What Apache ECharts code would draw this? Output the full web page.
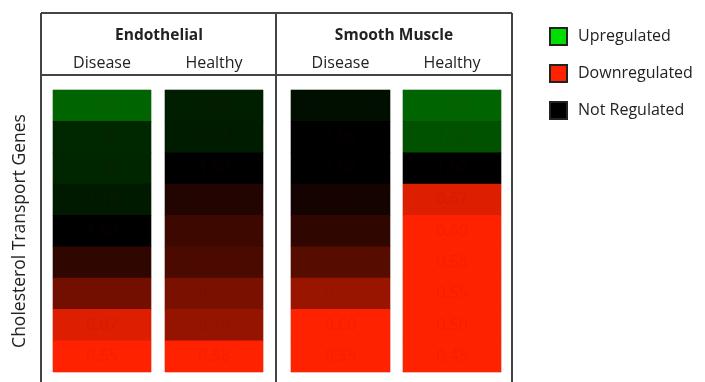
<!DOCTYPE html>
<html>
<head>
<meta charset="utf-8">
<script src="https://cdn.jsdelivr.net/npm/echarts@6/dist/echarts.min.js"></script>
<style>
  html, body { margin: 0; padding: 0; background: #fff; }
  #chart { width: 705px; height: 382px; }
</style>
</head>
<body>
<div id="chart"></div>
<script>
// Fold change of nine cholesterol transport genes, top to bottom
const genes = ['G1', 'G2', 'G3', 'G4', 'G5', 'G6', 'G7', 'G8', 'G9'];
const groups = ['Endothelial', 'Smooth Muscle'];
const conditions = ['Disease', 'Healthy'];
const endoDisease   = [1.75, 1.30, 1.28, 1.19, 1.00, 0.93, 0.83, 0.67, 0.55];
const endoHealthy   = [1.22, 1.21, 1.00, 0.95, 0.91, 0.89, 0.82, 0.78, 0.58];
const smoothDisease = [1.11, 1.00, 1.00, 0.97, 0.93, 0.87, 0.77, 0.60, 0.55];
const smoothHealthy = [1.75, 1.60, 1.00, 0.67, 0.60, 0.58, 0.55, 0.50, 0.45];
const legendNames = ['Upregulated', 'Downregulated', 'Not Regulated'];
const legendColors = ['#00dd00', '#ff2200', '#000000'];

const columns = [endoDisease, endoHealthy, smoothDisease, smoothHealthy];
const columnLabels = [conditions[0], conditions[1], conditions[0], conditions[1]];
const gridLefts = [53, 165, 291, 403];
const gridWidths = [98, 98, 99, 98];
const FONT = '"Open Sans", Lato, sans-serif';

const grids = columns.map((_, i) => ({
  left: gridLefts[i], width: gridWidths[i], top: 90, height: 282,
  show: true, backgroundColor: 'transparent', borderColor: '#dcdcdc', borderWidth: 1
}));
const xAxes = columns.map((_, i) => ({
  type: 'category', gridIndex: i, position: 'top', data: [columnLabels[i]],
  axisLine: { show: false }, axisTick: { show: false },
  axisLabel: { margin: 19, fontSize: 16, color: '#222', fontFamily: FONT }
}));
const yAxes = columns.map((_, i) => ({
  type: 'category', gridIndex: i, inverse: true, data: genes,
  axisLine: { show: false }, axisTick: { show: false }, axisLabel: { show: false },
  name: i === 0 ? 'Cholesterol Transport Genes' : '',
  nameLocation: 'middle', nameGap: 24, nameRotate: 90,
  nameTextStyle: { fontSize: 17.5, color: '#222', fontFamily: FONT }
}));

const heatSeries = columns.map((vals, i) => ({
  type: 'heatmap', xAxisIndex: i, yAxisIndex: i,
  data: vals.map((v, r) => [0, r, v]),
  label: {
    show: true, fontSize: 16, fontFamily: FONT,
    color: 'rgba(130,10,0,0.09)',
    formatter: p => p.value[2].toFixed(2)
  },
  itemStyle: { borderWidth: 0 },
  emphasis: { disabled: true }
}));

// empty series only to feed the legend swatches
const legendSeries = legendNames.map((n, i) => ({
  type: 'scatter', name: n, xAxisIndex: 0, yAxisIndex: 0, data: [],
  itemStyle: { color: legendColors[i], opacity: 1, borderColor: '#222', borderWidth: 1 }
}));

const lineStyle = { stroke: '#444', lineWidth: 2 };
const tableX0 = 41, tableX1 = 512, tableMid = 276, tableTop = 13, headerLine = 75, tableBottom = 390;

const chart = echarts.init(document.getElementById('chart'), null, { renderer: 'canvas' });
chart.setOption({
  animation: false,
  backgroundColor: '#fff',
  grid: grids,
  xAxis: xAxes,
  yAxis: yAxes,
  visualMap: {
    show: false, type: 'continuous', min: 0.62, max: 2.9, seriesIndex: [0, 1, 2, 3],
    inRange: { color: ['#ff2200', '#000000', '#003300', '#006600', '#009900', '#00cc00', '#00ff00'] }
  },
  legend: {
    orient: 'vertical', left: 549, top: 27, itemGap: 18, padding: 0,
    itemWidth: 17, itemHeight: 17, icon: 'rect',
    data: legendNames,
    textStyle: { fontSize: 16, lineHeight: 17, color: '#222', fontFamily: FONT, padding: [0, 0, 0, 6] }
  },
  graphic: [
    { type: 'line', shape: { x1: tableX0, y1: tableTop, x2: tableX1, y2: tableTop }, style: lineStyle },
    { type: 'line', shape: { x1: tableX0, y1: headerLine, x2: tableX1, y2: headerLine }, style: lineStyle },
    { type: 'line', shape: { x1: tableX0, y1: tableTop, x2: tableX0, y2: tableBottom }, style: lineStyle },
    { type: 'line', shape: { x1: tableX1, y1: tableTop, x2: tableX1, y2: tableBottom }, style: lineStyle },
    { type: 'line', shape: { x1: tableMid, y1: tableTop, x2: tableMid, y2: tableBottom }, style: lineStyle },
    { type: 'text', x: 159, y: 36, style: { text: groups[0], align: 'center', verticalAlign: 'middle',
      font: 'bold 15.5px ' + FONT, fill: '#222' } },
    { type: 'text', x: 394, y: 36, style: { text: groups[1], align: 'center', verticalAlign: 'middle',
      font: 'bold 15.5px ' + FONT, fill: '#222' } }
  ],
  series: heatSeries.concat(legendSeries)
});
</script>
</body>
</html>
